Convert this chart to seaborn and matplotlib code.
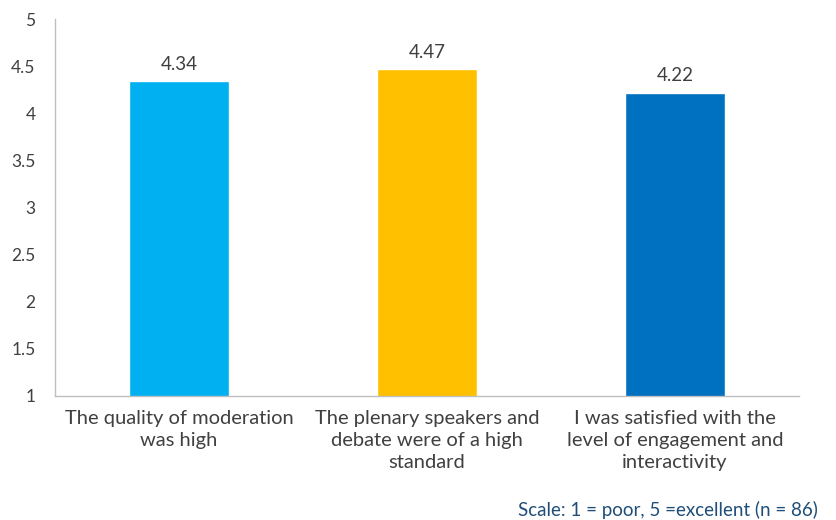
import matplotlib
matplotlib.use('Agg')
import matplotlib.pyplot as plt
import seaborn as sns
import pandas as pd

# survey ratings
statements = ['The quality of moderation\nwas high',
              'The plenary speakers and\ndebate were of a high\nstandard',
              'I was satisfied with the\nlevel of engagement and\ninteractivity']
scores = [4.34, 4.47, 4.22]
bar_colors = ['#00B0F0', '#FFC000', '#0070C0']
yticks = [1, 1.5, 2, 2.5, 3, 3.5, 4, 4.5, 5]
note = 'Scale: 1 = poor, 5 =excellent (n = 86)'

df = pd.DataFrame({'Statement': statements, 'Score': scores})

sns.set_style('white')
plt.rcParams['font.family'] = ['Lato', 'DejaVu Sans']

fig = plt.figure(figsize=(8.36, 5.2), dpi=100)
ax = fig.add_axes([55/836, 1 - 396/520, 744/836, 377/520])

sns.barplot(data=df, x='Statement', y='Score', hue='Statement',
            palette=bar_colors, width=0.4, legend=False, ax=ax, saturation=1)

ax.set_ylim(1, 5)
ax.set_xlim(-0.5, 2.5)
ax.set_yticks(yticks)
ax.set_yticklabels([f'{t:g}' for t in yticks], fontsize=12.5, color='#404040')
ax.set_xlabel('')
ax.set_ylabel('')

# category labels between boundary ticks
ax.set_xticks([-0.5, 0.5, 1.5, 2.5])
ax.set_xticklabels([])
ax.set_xticks([0, 1, 2], minor=True)
ax.set_xticklabels(statements, minor=True, fontsize=14.5, color='#404040',
                   linespacing=1.35)
ax.tick_params(axis='x', which='minor', length=0, pad=10)
ax.tick_params(axis='x', which='major', length=5, color='#BFBFBF', width=1)
ax.tick_params(axis='y', length=5, color='#BFBFBF', width=1, pad=9)

for side in ['top', 'right']:
    ax.spines[side].set_visible(False)
for side in ['left', 'bottom']:
    ax.spines[side].set_color('#BFBFBF')
    ax.spines[side].set_linewidth(1)

for c in ax.containers:
    ax.bar_label(c, fmt='%.2f', padding=6, fontsize=13.5, color='#404040')

fig.text(818/836, 1 - 510/520, note, ha='right', va='center',
         fontsize=13.5, color='#1F4E79')

fig.savefig('out.png', dpi=100)
